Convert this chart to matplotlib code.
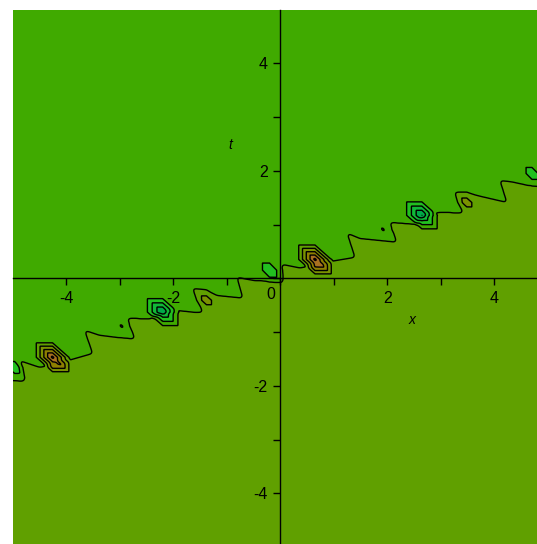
import numpy as np
import matplotlib.pyplot as plt
from matplotlib.path import Path
from matplotlib.ticker import FuncFormatter

plt.rcParams['font.family'] = ['Liberation Sans', 'DejaVu Sans']

# front between the two plateaus, walked from left to right (x, t)
front_x = [-5.03, -4.78, -4.88, -4.50, -4.04, -3.51, -3.66, -3.38, -3.06, -2.72,
           -2.86, -2.44, -2.20, -1.94, -1.64, -1.45, -1.64, -1.38, -1.19, -0.70,
           -0.81, -0.51, 0.05, 0.03, 0.37, 0.87, 1.40, 1.25, 1.49, 2.18,
           2.05, 2.56, 2.65, 2.99, 3.42, 3.27, 3.49, 3.68, 4.24, 4.11,
           4.35, 4.62, 5.01]
front_t = [-1.90, -1.92, -1.53, -1.66, -1.55, -1.40, -0.97, -1.06, -1.10, -1.13,
           -0.74, -0.76, -0.64, -0.60, -0.63, -0.63, -0.19, -0.22, -0.32, -0.37,
           0.02, -0.04, -0.07, 0.26, 0.19, 0.30, 0.39, 0.84, 0.74, 0.67,
           1.04, 1.00, 1.15, 1.23, 1.21, 1.60, 1.60, 1.54, 1.41, 1.82,
           1.79, 1.73, 1.69]

upper_level = 0.0
lower_level = 1.0

# localised humps and dips: centre, height, half widths
bump_x = [-4.26, -2.20, 0.65, 2.65, -1.38, 3.49, -2.97, 1.92, -0.20, 4.71, -4.97]
bump_t = [-1.47, -0.63, 0.35, 1.17, -0.41, 1.41, -0.89, 0.91, 0.15, 1.95, -1.66]
bump_h = [4.8, -3.7, 4.8, -3.7, 0.8, 0.8, 0.56, 0.56, -0.95, -0.9, -0.9]
bump_rx = [0.34, 0.33, 0.34, 0.33, 0.25, 0.25, 0.20, 0.20, 0.28, 0.25, 0.25]
bump_rt = [0.30, 0.29, 0.30, 0.29, 0.22, 0.22, 0.20, 0.20, 0.28, 0.25, 0.25]

levels = [-10, -3.5, -2.5, -1.5, -0.5, 0.5, 1.5, 2.5, 3.5, 4.5, 10]
band_colors = ['#009a58', '#00aa48', '#10b838', '#22c020', '#40aa00',
               '#60a000', '#7a9200', '#8e8000', '#a87020', '#c86028']


def smooth(a, sigma, n):
    k = np.exp(-0.5 * (np.arange(-n, n + 1) / sigma) ** 2)
    k /= k.sum()
    p = np.pad(a, ((n, n), (0, 0)), mode='edge')
    a = sum(k[i] * p[i:i + a.shape[0]] for i in range(2 * n + 1))
    p = np.pad(a, ((0, 0), (n, n)), mode='edge')
    return sum(k[i] * p[:, i:i + a.shape[1]] for i in range(2 * n + 1))


x = np.linspace(-5, 5, 1001)
t = np.linspace(-5, 5, 1001)
X, T = np.meshgrid(x, t)

poly = list(zip(front_x, front_t))
poly += [(5.6, front_t[-1]), (5.6, -5.6), (-5.6, -5.6), (-5.6, front_t[0])]
below = Path(poly).contains_points(np.column_stack([X.ravel(), T.ravel()]))
Z = np.where(below.reshape(X.shape), lower_level, upper_level)
Z = smooth(Z, 3.0, 9)

# hexagonal pyramids (piecewise linear hat on a triangulated mesh)
for bx, bt, bh, rx, rt in zip(bump_x, bump_t, bump_h, bump_rx, bump_rt):
    u = (X - bx) / rx
    v = (T - bt) / rt
    hexn = np.maximum(np.maximum(np.abs(u), np.abs(v)), np.abs(u + v))
    Z = Z + bh * np.clip(1 - hexn, 0, None)

fig = plt.figure(figsize=(5.37, 5.44), dpi=100)
ax = fig.add_axes([13 / 537, -3 / 544, 534.5 / 537, 537.5 / 544])
ax.contourf(X, T, Z, levels=levels, colors=band_colors)
ax.contour(X, T, Z, levels=levels[1:-1], colors='k', linewidths=1.0,
           linestyles='solid')

ax.set_xlim(-5, 5)
ax.set_ylim(-5, 5)
for side in ['top', 'right']:
    ax.spines[side].set_visible(False)
ax.spines['left'].set_position(('data', 0))
ax.spines['bottom'].set_position(('data', 0))
for side in ['left', 'bottom']:
    ax.spines[side].set_linewidth(1.0)
    ax.spines[side].set_zorder(5)

ticks = [-4, -3, -2, -1, 0, 1, 2, 3, 4]
ax.set_xticks(ticks)
ax.set_yticks(ticks)
fmt = FuncFormatter(lambda v, p: '' if (v == 0 or int(v) % 2) else '%d' % v)
ax.xaxis.set_major_formatter(fmt)
ax.yaxis.set_major_formatter(fmt)
ax.tick_params(direction='out', length=5, width=1.0, pad=4, labelsize=11.5)

ax.text(-0.17, -0.30, '0', fontsize=11.5, ha='center', va='center')
ax.text(2.46, -0.78, 'x', fontsize=10, style='italic', ha='center', va='center')
ax.text(-0.93, 2.47, 't', fontsize=10, style='italic', ha='center', va='center')

fig.savefig('out.png', dpi=100)
